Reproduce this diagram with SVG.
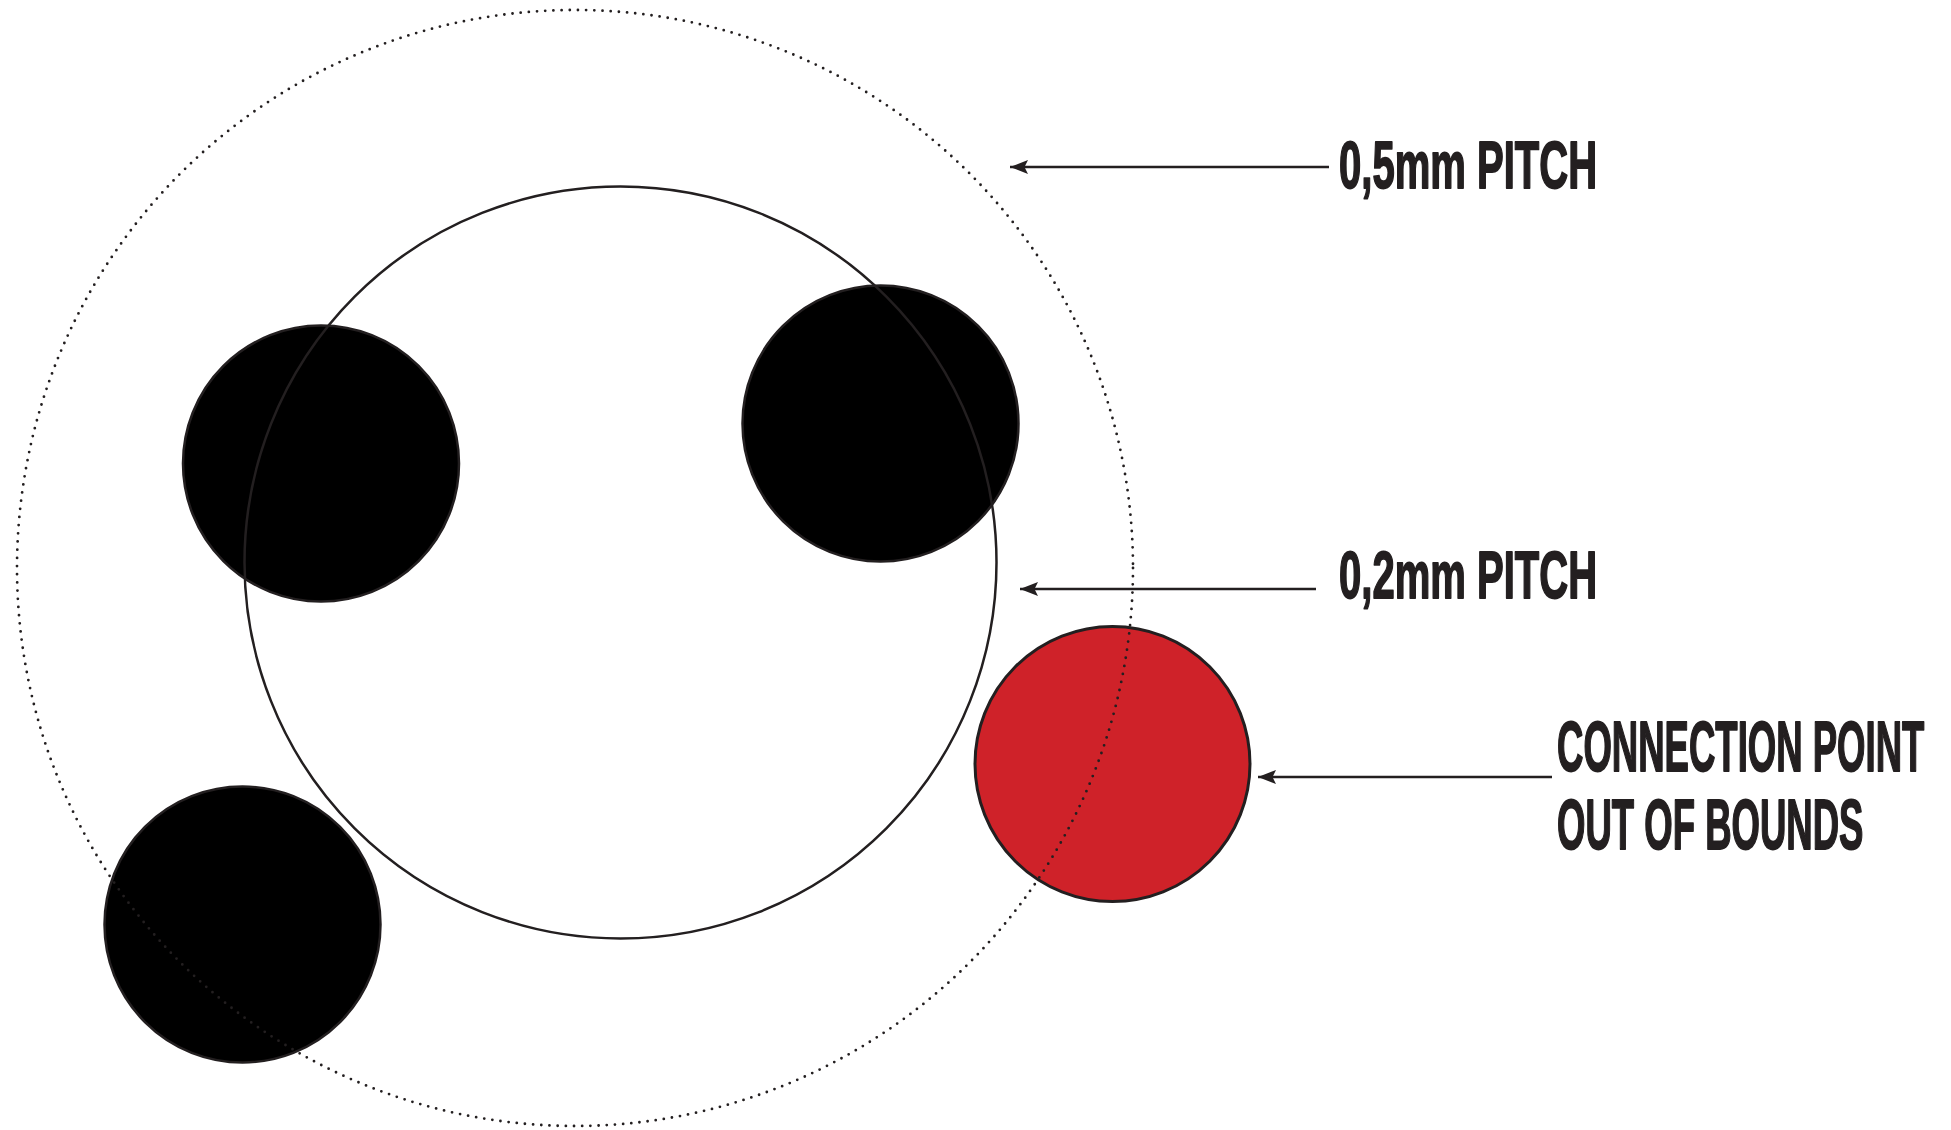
<svg xmlns="http://www.w3.org/2000/svg" width="1951" height="1130" viewBox="0 0 1951 1130">
  <style>
    .pad { fill: #000; stroke: #231f20; stroke-width: 2.5; }
    .bad { fill: #cf2229; stroke: #231f20; stroke-width: 3; }
    .ring { fill: none; stroke: #231f20; stroke-width: 2.5; }
    .dots { fill: none; stroke: #231f20; stroke-width: 2.8; stroke-linecap: round; stroke-dasharray: 0 8.2; }
    .conn { fill: none; stroke: #231f20; stroke-width: 2.6; }
    .lbl { font-family: "Liberation Sans", Arial, sans-serif; font-weight: bold; fill: #231f20; stroke: #231f20; stroke-width: 1.8; stroke-linejoin: round; }
  </style>
  <defs>
    <marker id="arrow" viewBox="0 -8 20 16" refX="19" refY="0" markerUnits="userSpaceOnUse" markerWidth="20" markerHeight="16" orient="auto">
      <path d="M19,0 L1,-7 L4.5,0 L1,7 Z" fill="#231f20"/>
    </marker>
  </defs>
  <rect width="1951" height="1130" fill="#fff"/>

  <g id="pad-1"><circle class="pad" cx="321" cy="463.5" r="138"/></g>
  <g id="pad-2"><circle class="pad" cx="880.5" cy="423.5" r="138"/></g>
  <g id="pad-3"><circle class="pad" cx="242.5" cy="924.5" r="138"/></g>
  <g id="pad-out"><circle class="bad" cx="1112.5" cy="764" r="137.5"/></g>
  <g id="pitch-02"><circle class="ring" cx="620.5" cy="562.5" r="376"/></g>
  <g id="pitch-05"><circle class="dots" cx="575" cy="568" r="558"/></g>

  <g id="connectors">
    <line class="conn" x1="1329" y1="167" x2="1010" y2="167" marker-end="url(#arrow)"/>
    <line class="conn" x1="1316" y1="589" x2="1020" y2="589" marker-end="url(#arrow)"/>
    <line class="conn" x1="1552" y1="777" x2="1258" y2="777" marker-end="url(#arrow)"/>
  </g>

  <g id="label-05"><text class="lbl" font-size="66" transform="translate(1339 188) scale(0.607 1)">0,5mm PITCH</text></g>
  <g id="label-02"><text class="lbl" font-size="66" transform="translate(1339 598) scale(0.607 1)">0,2mm PITCH</text></g>
  <g id="label-out">
    <text class="lbl" font-size="70" transform="translate(1557 771) scale(0.522 1)">CONNECTION POINT</text>
    <text class="lbl" font-size="70" transform="translate(1557 849) scale(0.522 1)">OUT OF BOUNDS</text>
  </g>
</svg>
